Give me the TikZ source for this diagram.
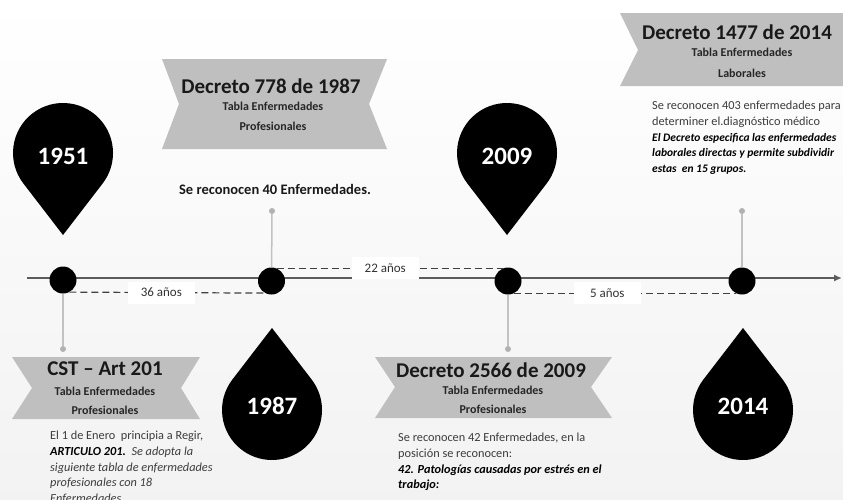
\documentclass[tikz,border=0pt]{standalone}
\usepackage{fontspec}
\setmainfont{Carlito}
\usetikzlibrary{arrows.meta}

\definecolor{ribbon}{HTML}{BFBFBF}
\definecolor{stemgray}{HTML}{C2C2C2}
\definecolor{axisgray}{HTML}{5C5C5C}
\definecolor{notegray}{HTML}{3C3C3C}

\begin{document}
\begin{tikzpicture}[x=1pt, y=-1pt,
  dot/.style={circle, fill=black, minimum size=27pt, inner sep=0pt},
  yearlabel/.style={text=white, font=\fontsize{25}{25}\selectfont\bfseries},
  stem/.style={draw=stemgray, line width=1.5pt},
  stemend/.style={circle, fill=black!30, minimum size=6pt, inner sep=0pt},
  gap/.style={draw=black!75, line width=1.2pt, dash pattern=on 7pt off 4pt},
  gaplabel/.style={fill=white, text=black!80, font=\fontsize{13}{13}\selectfont, minimum width=67pt, minimum height=22pt},
  ribbontitle/.style={text=black!90, font=\fontsize{21}{21}\selectfont\bfseries},
  ribbonsub/.style={text=black!85, font=\fontsize{12}{12}\selectfont\bfseries},
  note/.style={text=notegray, font=\fontsize{12.3}{15.7}\selectfont, align=left, anchor=north west, inner sep=0pt}]

% background
\shade[top color=white, bottom color=black!5] (0,0) rectangle (843,499);
\useasboundingbox (0,0) rectangle (843,499);

% time line
\coordinate (t0) at (27,278);
\coordinate (t1) at (842,278);
\path[draw=axisgray, line width=2pt, -{Latex[length=8pt,width=7pt]}] (t0) -- (t1);

\node[dot] (d1951) at (63,280) {};
\node[dot] (d1987) at (271.5,281) {};
\node[dot] (d2009) at (508,281) {};
\node[dot] (d2014) at (742,281) {};

% stems
\node[stemend] (e1951) at (63,349) {};
\node[stemend] (e1987) at (272,211) {};
\node[stemend] (e2009) at (508,349) {};
\node[stemend] (e2014) at (742,211) {};
\foreach \yr in {1951,1987,2009,2014}{
\path[stem] (d\yr) -- (e\yr);
}

% years between
\path[gap] (d1951.-62) -- (d1987.-118) node[gaplabel, pos=0.47] (g36) {36 años};
\path[gap] (d1987.68) -- (d2009.112) node[gaplabel, pos=0.48] (g22) {22 años};
\path[gap] (d2009.-62) -- (d2014.-118) node[gaplabel, pos=0.42] (g5) {5 años};

% pins
\foreach \x/\yr in {63/1951, 507/2009}{
\path[fill=black] (\x,235) -- ++(-39.6,-51.5) arc[start angle=142.4, end angle=397.6, radius=50] -- cycle;
\node[yearlabel] (p\yr) at (\x,156) {\yr};
}
\foreach \x/\yr in {272/1987, 743/2014}{
\path[fill=black] (\x,328) -- ++(-39.6,51.5) arc[start angle=217.6, end angle=-37.6, radius=50] -- cycle;
\node[yearlabel] (p\yr) at (\x,406) {\yr};
}

% ribbons
\path[fill=ribbon] (162,59) -- (387,59) -- (369,104) -- (387,149) -- (162,149) -- (179,104) -- cycle;
\node[ribbontitle] (r1987) at (271,86) {Decreto 778 de 1987};
\node[ribbonsub] (r1987a) at (273,106) {Tabla Enfermedades};
\node[ribbonsub] (r1987b) at (273,126) {Profesionales};

\path[fill=ribbon] (620,13) -- (850,13) -- (850,86) -- (620,86) -- (638,50) -- cycle;
\node[ribbontitle] (r2014) at (737,32) {Decreto 1477 de 2014};
\node[ribbonsub] (r2014a) at (742,52) {Tabla Enfermedades};
\node[ribbonsub] (r2014b) at (742,73) {Laborales};

\path[fill=ribbon] (12,357) -- (200,357) -- (181,388) -- (200,419) -- (12,419) -- (32,388) -- cycle;
\node[ribbontitle] (r1951) at (105,369) {CST – Art 201};
\node[ribbonsub] (r1951a) at (105,391) {Tabla Enfermedades};
\node[ribbonsub] (r1951b) at (105,410) {Profesionales};

\path[fill=ribbon] (375,357) -- (612,357) -- (591,387) -- (612,418) -- (375,418) -- (395,387) -- cycle;
\node[ribbontitle] (r2009) at (491,370) {Decreto 2566 de 2009};
\node[ribbonsub] (r2009a) at (493,390) {Tabla Enfermedades};
\node[ribbonsub] (r2009b) at (493,409) {Profesionales};

% notes
\node[text=black!90, font=\fontsize{14.5}{14.5}\selectfont\bfseries] (n1987) at (275,189) {Se reconocen 40 Enfermedades.};

\node[note] (n2014) at (652,101) {Se reconocen 403 enfermedades para\\
determiner el.diagnóstico médico\\
\textcolor{black}{\fontsize{11.5}{15.7}\selectfont\bfseries\itshape El Decreto especifica las enfermedades}\\
\textcolor{black}{\fontsize{11.5}{15.7}\selectfont\bfseries\itshape laborales directas y permite subdividir}\\
\textcolor{black}{\fontsize{11.5}{15.7}\selectfont\bfseries\itshape estas\ \ en 15 grupos.}};

\node[note] (n1951) at (50,431) {El 1 de Enero\ \ principia a Regir,\\
\textcolor{black}{\bfseries\itshape ARTICULO 201.}\ \ \itshape Se adopta la\\
\itshape siguiente tabla de enfermedades\\
\itshape profesionales con 18\\
\itshape Enfermedades};

\node[note] (n2009) at (398,433) {Se reconocen 42 Enfermedades, en la\\
posición se reconocen:\\
\textcolor{black}{\bfseries\itshape 42. Patologías causadas por estrés en el}\\
\textcolor{black}{\bfseries\itshape trabajo:}};
\end{tikzpicture}
\end{document}
